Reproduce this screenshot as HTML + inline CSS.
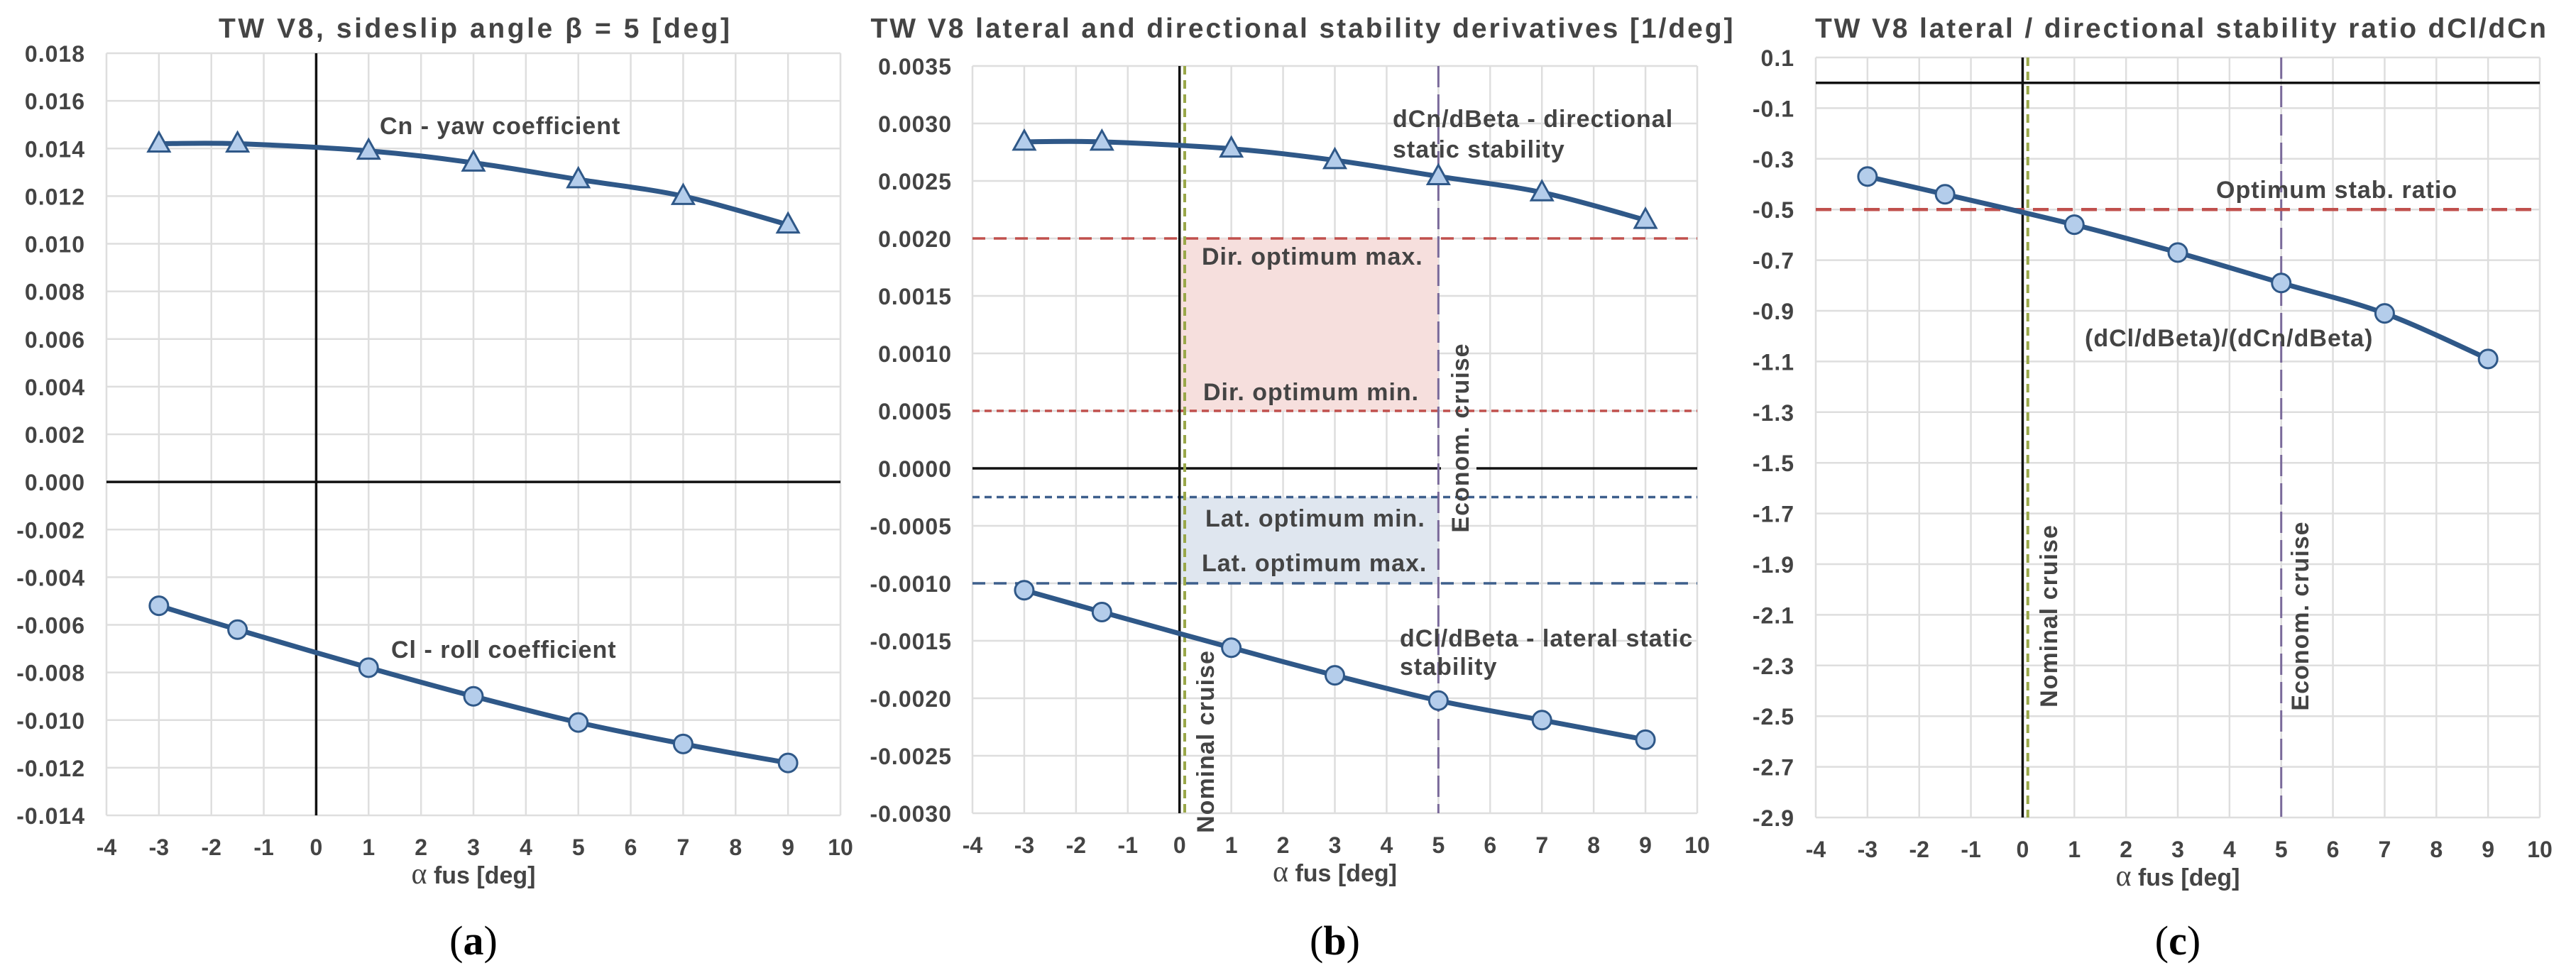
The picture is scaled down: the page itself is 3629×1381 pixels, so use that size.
<!DOCTYPE html>
<html><head><meta charset="utf-8"><style>
html,body{margin:0;padding:0;background:#fff}
svg{display:block}
text{font-family:"Liberation Sans",Arial,sans-serif;font-weight:bold;fill:#444}
.cap{font-family:"Liberation Serif",serif;fill:#000;font-weight:normal}
</style></head><body>
<svg id="fig" width="3629" height="1381" viewBox="0 0 3629 1381" xmlns="http://www.w3.org/2000/svg"></svg>
<script>
const xTicks = [-4,-3,-2,-1,0,1,2,3,4,5,6,7,8,9,10];
const alphaA = [-3,-1.5,1,3,5,7,9];
const cnA = [0.0142,0.0142,0.0139,0.0134,0.0127,0.0120,0.0108];
const clA = [-0.0052,-0.0062,-0.0078,-0.0090,-0.0101,-0.0110,-0.0118];
const yTicksA = ["0.018","0.016","0.014","0.012","0.010","0.008","0.006","0.004","0.002","0.000","-0.002","-0.004","-0.006","-0.008","-0.010","-0.012","-0.014"];
const dCn = [0.00284,0.00284,0.00278,0.00268,0.00254,0.00240,0.00216];
const dCl = [-0.00106,-0.00125,-0.00156,-0.00180,-0.00202,-0.00219,-0.00236];
const yTicksB = ["0.0035","0.0030","0.0025","0.0020","0.0015","0.0010","0.0005","0.0000","-0.0005","-0.0010","-0.0015","-0.0020","-0.0025","-0.0030"];
const ratioC = [-0.37,-0.44,-0.56,-0.67,-0.79,-0.91,-1.09];
const yTicksC = ["0.1","-0.1","-0.3","-0.5","-0.7","-0.9","-1.1","-1.3","-1.5","-1.7","-1.9","-2.1","-2.3","-2.5","-2.7","-2.9"];
const dirOpt = [0.0005,0.002];
const latOpt = [-0.00025,-0.001];
const optRatio = [-0.5];
const cruise = [0.1,5];

const svg = document.getElementById('fig');
const NS = 'http://www.w3.org/2000/svg';
function mk(tag, attrs, parent){const e=document.createElementNS(NS,tag);for(const k in attrs)e.setAttribute(k,attrs[k]);(parent||svg).appendChild(e);return e;}
function txt(s, attrs, parent){const e=mk('text',attrs,parent);e.textContent=s;return e;}

function panel(cfg){
  const g=mk('g',{});
  
  
  const X=v=>cfg.l+(v-(-4))/14*(cfg.r-cfg.l);
  const ymax=parseFloat(cfg.yt[0]), ymin=parseFloat(cfg.yt[cfg.yt.length-1]);
  const Y=v=>cfg.t+(ymax-v)/(ymax-ymin)*(cfg.b-cfg.t);
  cfg.yt.forEach(s=>{const v=parseFloat(s);
    const l=mk('line',{x1:cfg.l,x2:cfg.r,y1:Y(v),y2:Y(v),stroke:'#dedede','stroke-width':2.5},g);
    
    
    const t=txt(s,{x:cfg.lx,y:Y(v)+12,'text-anchor':'end','font-size':32,'letter-spacing':1},g);
    
    
  });
  xTicks.forEach(v=>{
    const l=mk('line',{x1:X(v),x2:X(v),y1:cfg.t,y2:cfg.b,stroke:'#dedede','stroke-width':2.5},g);
    
    
    const t=txt(String(v),{x:X(v),y:cfg.b+56,'text-anchor':'middle','font-size':32},g);
    
    
  });
  const tt=txt(cfg.title,{x:cfg.tx,y:53,'text-anchor':'middle','font-size':39,textLength:cfg.tw,lengthAdjust:'spacing'},g);
  
  
  const xt=txt('',{x:X(3),y:cfg.b+96,'text-anchor':'middle','font-size':34},g);
  xt.innerHTML='<tspan font-family="Liberation Serif" font-size="42" font-weight="normal">α</tspan> fus [deg]';
  
  
  const cp=txt(cfg.cap,{x:X(3),y:1345,'text-anchor':'middle','font-size':58,'class':'cap'},g);
  cp.innerHTML='(<tspan font-weight="bold">'+cfg.cap+'</tspan>)';
  
  
  return {g,X,Y};
}
function series(p, xs, ys, marker, name){
  const pts=xs.map((x,i)=>[p.X(x),p.Y(ys[i])]);
  let d='M'+pts[0][0]+','+pts[0][1];
  for(let i=0;i<pts.length-1;i++){
    const p0=pts[i-1]||pts[i],p1=pts[i],p2=pts[i+1],p3=pts[i+2]||p2;
    const c1=[p1[0]+(p2[0]-p0[0])/6,p1[1]+(p2[1]-p0[1])/6];
    const c2=[p2[0]-(p3[0]-p1[0])/6,p2[1]-(p3[1]-p1[1])/6];
    d+=' C'+c1+' '+c2+' '+p2;
  }
  const path=mk('path',{d,fill:'none',stroke:'#2f5888','stroke-width':7},p.g);
  
  
  pts.forEach(q=>{
    let m;
    if(marker==='tri') m=mk('polygon',{points:`${q[0]},${q[1]-16} ${q[0]-15},${q[1]+11} ${q[0]+15},${q[1]+11}`,fill:'#b4cdeb',stroke:'#2f5888','stroke-width':3},p.g);
    else m=mk('circle',{cx:q[0],cy:q[1],r:13,fill:'#b4cdeb',stroke:'#2f5888','stroke-width':3},p.g);
    
    
  });
}
function hline(p,v,x1,x2,col,w,dash,name){const l=mk('line',{x1,x2,y1:p.Y(v),y2:p.Y(v),stroke:col,'stroke-width':w,'stroke-dasharray':dash||'none'},p.g);
  
  return l;}
function vline(p,v,y1,y2,col,w,dash,name){const l=mk('line',{x1:p.X(v),x2:p.X(v),y1,y2,stroke:col,'stroke-width':w,'stroke-dasharray':dash||'none'},p.g);
  
  return l;}
function label(p,s,x,y,size,anchor,rot,name){const a={x,y,'font-size':size,'text-anchor':anchor||'start','letter-spacing':1};if(rot)a.transform=`rotate(-90 ${x} ${y})`;const t=txt(s,a,p.g);
  
  return t;}

// Panel A
const pa=panel({name:'panel-a',l:150,r:1184,t:75,b:1149,lx:120,yt:yTicksA,title:'TW V8, sideslip angle β = 5 [deg]',tx:668,tw:720,cap:'a'});
hline(pa,0,150,1184,'#111',3.5,null,'zero-line');
vline(pa,0,75,1149,'#111',3.5,null,'alpha-zero-line');
series(pa,alphaA,cnA,'tri','cn');
series(pa,alphaA,clA,'circ','cl');
label(pa,'Cn - yaw coefficient',535,189,34,'start',0,'cn-label');
label(pa,'Cl - roll coefficient',551,927,34,'start',0,'cl-label');

// Panel B
const pb=panel({name:'panel-b',l:1370,r:2391,t:93,b:1146,lx:1341,yt:yTicksB,title:'TW V8 lateral and directional stability derivatives [1/deg]',tx:1834,tw:1215,cap:'b'});
const r1=mk('rect',{x:pb.X(0),y:pb.Y(dirOpt[1]),width:pb.X(5)-pb.X(0),height:pb.Y(dirOpt[0])-pb.Y(dirOpt[1]),fill:'#f6dfdd'},pb.g);


const r2=mk('rect',{x:pb.X(0),y:pb.Y(latOpt[0]),width:pb.X(5)-pb.X(0),height:pb.Y(latOpt[1])-pb.Y(latOpt[0]),fill:'#dfe6ef'},pb.g);


hline(pb,0,1370,2030,'#111',3.5,null,'zero-line');
hline(pb,0,2080,2391,'#111',3.5,null,'zero-line-right');
hline(pb,dirOpt[1],1370,2391,'#c0504d',3.5,'18 12','dir-optimum-max-line');
hline(pb,dirOpt[0],1370,2391,'#c0504d',3.5,'10 7','dir-optimum-min-line');
hline(pb,latOpt[0],1370,2391,'#3d5f8c',3.5,'10 7','lat-optimum-min-line');
hline(pb,latOpt[1],1370,2391,'#3d5f8c',3.5,'18 12','lat-optimum-max-line');
vline(pb,0,93,1146,'#111',3.5,null,'alpha-zero-line');
vline(pb,cruise[0],93,1146,'#9aa84a',4,'12 8','nominal-cruise-line');
vline(pb,cruise[1],93,1146,'#7a6a9a',3,'30 10','econom-cruise-line');
series(pb,alphaA,dCn,'tri','dcn');
series(pb,alphaA,dCl,'circ','dcl');
label(pb,'dCn/dBeta - directional',1962,179,34,'start',0,'dcn-label');
label(pb,'static stability',1962,222,34,'start',0,'dcn-label-2');
label(pb,'Dir. optimum max.',1693,373,34,'start',0,'dir-max-label');
label(pb,'Dir. optimum min.',1695,564,34,'start',0,'dir-min-label');
label(pb,'Lat. optimum min.',1698,742,34,'start',0,'lat-min-label');
label(pb,'Lat. optimum max.',1693,805,34,'start',0,'lat-max-label');
label(pb,'dCl/dBeta - lateral static',1972,911,34,'start',0,'dcl-label');
label(pb,'stability',1972,951,34,'start',0,'dcl-label-2');
label(pb,'Econom. cruise',2069,617,34,'middle',1,'econom-cruise-label');
label(pb,'Nominal cruise',1710,1045,34,'middle',1,'nominal-cruise-label');

// Panel C
const pc=panel({name:'panel-c',l:2558,r:3578,t:81,b:1152,lx:2528,yt:yTicksC,title:'TW V8 lateral / directional stability ratio dCl/dCn',tx:3072,tw:1030,cap:'c'});
hline(pc,0,2558,3578,'#111',3.5,null,'zero-line');
vline(pc,0,81,1152,'#111',3.5,null,'alpha-zero-line');
vline(pc,cruise[0],81,1152,'#9aa84a',4,'12 8','nominal-cruise-line');
vline(pc,cruise[1],81,1152,'#7a6a9a',3,'30 10','econom-cruise-line');
hline(pc,optRatio[0],2558,3578,'#c0504d',4.5,'22 12','optimum-ratio-line');
series(pc,alphaA,ratioC,'circ','ratio');
label(pc,'Optimum  stab. ratio',3122,279,34,'start',0,'optimum-ratio-label');
label(pc,'(dCl/dBeta)/(dCn/dBeta)',2937,488,34,'start',0,'ratio-label');
label(pc,'Nominal cruise',2898,868,34,'middle',1,'nominal-cruise-label');
label(pc,'Econom. cruise',3252,868,34,'middle',1,'econom-cruise-label');
</script>
</body></html>
